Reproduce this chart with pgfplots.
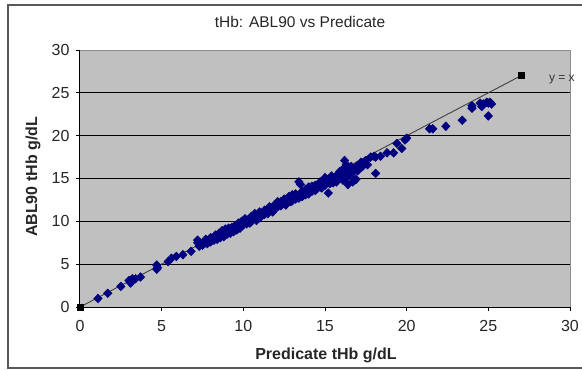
\documentclass[border=0pt]{standalone}
\usepackage{fontspec}
\setmainfont{Liberation Sans}
\usepackage{pgfplots}
\pgfplotsset{compat=1.18}
\definecolor{bggray}{HTML}{C0C0C0}
\definecolor{navy}{HTML}{000080}
\definecolor{linegray}{HTML}{404040}
\begin{document}
\begin{tikzpicture}
\useasboundingbox (-80pt,-63pt) rectangle (502pt,307pt);
\draw[black!65, line width=1.3pt] (503pt,302pt) -- (-72pt,302pt) -- (-72pt,-61pt) -- (503pt,-61pt);
\begin{axis}[
  at={(0pt,0pt)}, anchor=south west,
  scale only axis, width=490pt, height=257pt,
  xmin=0, xmax=30, ymin=0, ymax=30,
  xtick={0,5,...,30}, ytick={0,5,...,30},
  axis x line*=bottom, axis y line*=left,
  axis line style={black, line width=1pt, -},
  axis background/.style={fill=bggray, draw=black!45, line width=1pt},
  tick align=outside, major tick length=4pt,
  tick style={black, line width=0.8pt},
  extra y ticks={5,10,15,20,25},
  extra y tick labels={},
  extra y tick style={grid=major, major tick length=0pt},
  grid style={black, line width=1.1pt},
  /pgf/number format/assume math mode=true,
  ticklabel style={font=\fontsize{16}{19}\selectfont, text=black!85},
  yticklabel style={xshift=-3pt},
  xticklabel style={yshift=-6pt},
  title={tHb: ABL90 vs Predicate},
  title style={at={(axis description cs:0.449,1.0856)}, anchor=center, font=\fontsize{15.5}{18}\selectfont, text=black!85},
  xlabel={Predicate tHb g/dL},
  xlabel style={at={(axis description cs:0.502,-0.187)}, anchor=center, font=\bfseries\fontsize{16}{19}\selectfont, text=black!85},
  ylabel={ABL90 tHb g/dL},
  ylabel style={at={(axis description cs:-0.096,0.506)}, anchor=center, font=\bfseries\fontsize{16}{19}\selectfont, text=black!85},
  clip=false,
]
\addplot[linegray, line width=0.9pt, mark=square*, mark size=3pt, mark options={black, solid}] coordinates {(0,0) (27,27)};
\addplot[only marks, mark=diamond*, mark size=4.4pt, mark options={navy, fill=navy, xscale=1.3}] table {
x y
1.1 1.0
1.7 1.6
2.5 2.4
3.0 3.1
3.1 2.8
3.2 3.3
3.4 3.3
3.7 3.5
4.7 4.4
4.7 4.9
4.75 4.6
5.4 5.3
5.6 5.7
5.9 5.9
6.3 6.1
6.8 6.5
7.2 7.8
7.2 7.5
7.3 7.1
7.4 7.3
7.5 7.2
7.6 7.4
7.7 7.5
7.7 7.9
7.8 7.4
7.9 7.7
8.0 7.8
8.0 7.6
8.0 8.1
8.1 7.9
8.2 7.8
8.2 8.1
8.3 8.0
8.3 8.4
8.4 8.2
8.4 7.9
8.5 8.3
8.5 8.6
8.6 8.1
8.6 8.5
8.7 8.4
8.7 8.9
8.8 8.6
8.8 8.2
8.9 8.7
8.9 9.1
9.0 8.5
9.0 8.9
9.1 8.8
9.1 9.2
9.2 9.0
9.2 8.6
9.3 8.9
9.3 9.3
9.4 9.2
9.4 8.8
9.5 9.1
9.5 9.5
9.6 9.3
9.6 9.0
9.7 9.4
9.7 9.8
9.8 9.6
9.8 9.2
9.9 9.5
9.9 10.0
10.0 9.8
10.0 9.6
10.1 9.9
10.1 10.3
10.2 9.7
10.2 10.1
10.3 9.9
10.4 10.3
10.4 9.8
10.5 10.0
10.5 10.6
10.6 10.2
10.7 10.4
10.7 10.9
10.8 10.7
10.8 10.1
10.9 10.5
11.0 10.8
11.0 10.4
11.0 11.1
11.1 10.6
11.2 11.0
11.3 10.8
11.3 11.3
11.4 11.1
11.5 10.9
11.5 11.3
11.6 11.2
11.6 11.7
11.7 11.5
11.8 11.1
11.9 11.4
11.9 11.9
12.0 11.6
12.0 11.9
12.1 11.7
12.1 12.3
12.2 12.0
12.3 11.8
12.3 12.3
12.4 12.1
12.5 12.2
12.5 12.6
12.6 11.9
12.6 12.4
12.7 12.2
12.8 12.6
12.8 12.9
12.9 12.3
13.0 12.7
13.0 12.4
13.0 13.1
13.1 12.9
13.2 12.6
13.2 13.2
13.3 13.0
13.4 12.7
13.4 14.6
13.5 14.3
13.5 13.2
13.6 12.9
13.6 13.5
13.7 13.3
13.8 13.1
13.8 13.7
13.9 13.5
14.0 13.6
14.0 13.2
14.0 14.0
14.1 13.8
14.2 13.5
14.2 14.1
14.3 13.9
14.4 13.6
14.4 14.2
14.5 14.1
14.5 13.8
14.6 14.3
14.7 14.0
14.7 14.6
14.8 14.4
14.8 13.9
14.9 14.6
15.0 14.2
15.0 14.8
15.0 15.1
15.1 14.5
15.2 14.9
15.2 13.3
15.3 14.4
15.3 15.0
15.4 14.7
15.4 15.3
15.5 15.1
15.5 14.5
15.6 14.9
15.7 15.3
15.7 14.6
15.8 15.5
15.9 15.0
15.9 15.8
16.0 15.2
16.0 15.6
16.1 16.0
16.1 14.8
16.2 15.4
16.2 16.3
16.2 17.1
16.3 16.6
16.3 15.1
16.4 15.8
16.4 14.3
16.5 16.1
16.5 15.4
16.6 16.4
16.7 15.7
16.7 14.6
16.8 16.2
16.8 14.8
16.9 14.9
17.0 16.5
17.0 15.9
17.2 16.9
17.3 16.4
17.5 17.1
17.6 16.6
17.8 17.5
18.0 17.6
18.1 17.5
18.1 15.6
18.4 17.6
18.8 18.0
19.2 18.0
19.4 19.1
19.7 18.5
19.9 19.5
20.0 19.7
21.4 20.8
21.6 20.8
22.4 21.1
23.4 21.8
24.0 23.5
24.0 23.2
24.5 23.8
24.6 23.4
24.7 23.7
24.9 23.9
25.0 23.8
25.1 23.9
25.2 23.7
25.0 22.3
};
\node[anchor=west, font=\fontsize{12}{14}\selectfont, text=black!80] at (axis cs:28.5,26.5) {y = x};
\end{axis}
\end{tikzpicture}
\end{document}
